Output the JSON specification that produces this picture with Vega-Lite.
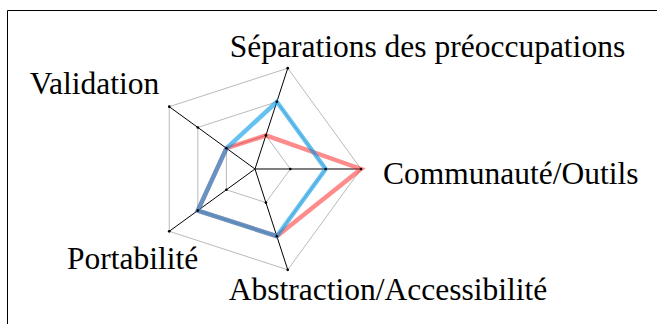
{
  "$schema": "https://vega.github.io/schema/vega-lite/v6.json",
  "width": 651,
  "height": 315,
  "autosize": {"type": "none"},
  "padding": {"left": 7, "top": 10, "right": -1, "bottom": -1},
  "background": "white",
  "config": {"view": {"stroke": "black", "strokeWidth": 1}, "text": {"font": "Liberation Serif"}},
  "datasets": {
    "axes": [
      {"axe": "Communauté/Outils", "i": 0},
      {"axe": "Séparations des préoccupations", "i": 1},
      {"axe": "Validation", "i": 2},
      {"axe": "Portabilité", "i": 3},
      {"axe": "Abstraction/Accessibilité", "i": 4}
    ],
    "grille": [
      {"i": 0, "niveau": 1}, {"i": 0, "niveau": 2}, {"i": 0, "niveau": 3},
      {"i": 1, "niveau": 1}, {"i": 1, "niveau": 2}, {"i": 1, "niveau": 3},
      {"i": 2, "niveau": 1}, {"i": 2, "niveau": 2}, {"i": 2, "niveau": 3},
      {"i": 3, "niveau": 1}, {"i": 3, "niveau": 2}, {"i": 3, "niveau": 3},
      {"i": 4, "niveau": 1}, {"i": 4, "niveau": 2}, {"i": 4, "niveau": 3}
    ],
    "scores": [
      {"serie": "A", "i": 0, "axe": "Communauté/Outils", "niveau": 3},
      {"serie": "A", "i": 1, "axe": "Séparations des préoccupations", "niveau": 1},
      {"serie": "A", "i": 2, "axe": "Validation", "niveau": 1},
      {"serie": "A", "i": 3, "axe": "Portabilité", "niveau": 2},
      {"serie": "A", "i": 4, "axe": "Abstraction/Accessibilité", "niveau": 2},
      {"serie": "B", "i": 0, "axe": "Communauté/Outils", "niveau": 2},
      {"serie": "B", "i": 1, "axe": "Séparations des préoccupations", "niveau": 2},
      {"serie": "B", "i": 2, "axe": "Validation", "niveau": 1},
      {"serie": "B", "i": 3, "axe": "Portabilité", "niveau": 2},
      {"serie": "B", "i": 4, "axe": "Abstraction/Accessibilité", "niveau": 2}
    ]
  },
  "layer": [
    {
      "data": {"name": "grille"},
      "transform": [
        {"calculate": "cos(2*PI*datum.i/5)*datum.niveau/3", "as": "x"},
        {"calculate": "sin(2*PI*datum.i/5)*datum.niveau/3", "as": "y"}
      ],
      "mark": {"type": "line", "color": "#a8a8a8", "strokeWidth": 0.8, "interpolate": "linear-closed"},
      "encoding": {
        "x": {"field": "x", "type": "quantitative", "scale": {"domain": [-2.3396, 3.8019], "nice": false, "zero": false}, "axis": null},
        "y": {"field": "y", "type": "quantitative", "scale": {"domain": [-1.4717, 1.5], "nice": false, "zero": false}, "axis": null},
        "detail": {"field": "niveau", "type": "nominal"},
        "order": {"field": "i", "type": "quantitative"}
      }
    },
    {
      "data": {"name": "axes"},
      "transform": [
        {"calculate": "cos(2*PI*datum.i/5)", "as": "x"},
        {"calculate": "sin(2*PI*datum.i/5)", "as": "y"},
        {"calculate": "0", "as": "o"}
      ],
      "mark": {"type": "rule", "color": "black", "strokeWidth": 1},
      "encoding": {
        "x": {"field": "o", "type": "quantitative"},
        "y": {"field": "o", "type": "quantitative"},
        "x2": {"field": "x"},
        "y2": {"field": "y"}
      }
    },
    {
      "data": {"name": "scores"},
      "transform": [
        {"filter": "datum.serie === 'A'"},
        {"calculate": "cos(2*PI*datum.i/5)*datum.niveau/3", "as": "x"},
        {"calculate": "sin(2*PI*datum.i/5)*datum.niveau/3", "as": "y"}
      ],
      "mark": {"type": "line", "color": "#ff0000", "opacity": 0.45, "strokeWidth": 4.5, "interpolate": "linear-closed", "strokeJoin": "miter"},
      "encoding": {
        "x": {"field": "x", "type": "quantitative"},
        "y": {"field": "y", "type": "quantitative"},
        "order": {"field": "i", "type": "quantitative"}
      }
    },
    {
      "data": {"name": "scores"},
      "transform": [
        {"filter": "datum.serie === 'B'"},
        {"calculate": "cos(2*PI*datum.i/5)*datum.niveau/3", "as": "x"},
        {"calculate": "sin(2*PI*datum.i/5)*datum.niveau/3", "as": "y"}
      ],
      "mark": {"type": "line", "color": "#0098e6", "opacity": 0.6, "strokeWidth": 4.5, "interpolate": "linear-closed", "strokeJoin": "miter"},
      "encoding": {
        "x": {"field": "x", "type": "quantitative"},
        "y": {"field": "y", "type": "quantitative"},
        "order": {"field": "i", "type": "quantitative"}
      }
    },
    {
      "data": {"name": "grille"},
      "transform": [
        {"calculate": "cos(2*PI*datum.i/5)*datum.niveau/3", "as": "x"},
        {"calculate": "sin(2*PI*datum.i/5)*datum.niveau/3", "as": "y"}
      ],
      "mark": {"type": "circle", "color": "black", "opacity": 1, "size": 7},
      "encoding": {
        "x": {"field": "x", "type": "quantitative"},
        "y": {"field": "y", "type": "quantitative"}
      }
    },
    {
      "data": {"name": "axes"},
      "transform": [
        {"filter": "datum.i === 0"},
        {"calculate": "cos(2*PI*datum.i/5)", "as": "x"},
        {"calculate": "sin(2*PI*datum.i/5)", "as": "y"}
      ],
      "mark": {"type": "text", "fontSize": 31.5, "color": "black", "align": "left", "baseline": "alphabetic", "dx": 22, "dy": 15},
      "encoding": {
        "x": {"field": "x", "type": "quantitative"},
        "y": {"field": "y", "type": "quantitative"},
        "text": {"field": "axe"}
      }
    },
    {
      "data": {"name": "axes"},
      "transform": [
        {"filter": "datum.i === 1"},
        {"calculate": "cos(2*PI*datum.i/5)", "as": "x"},
        {"calculate": "sin(2*PI*datum.i/5)", "as": "y"}
      ],
      "mark": {"type": "text", "fontSize": 31.5, "color": "black", "align": "left", "baseline": "alphabetic", "dx": -58, "dy": -11},
      "encoding": {
        "x": {"field": "x", "type": "quantitative"},
        "y": {"field": "y", "type": "quantitative"},
        "text": {"field": "axe"}
      }
    },
    {
      "data": {"name": "axes"},
      "transform": [
        {"filter": "datum.i === 2"},
        {"calculate": "cos(2*PI*datum.i/5)", "as": "x"},
        {"calculate": "sin(2*PI*datum.i/5)", "as": "y"}
      ],
      "mark": {"type": "text", "fontSize": 31.5, "color": "black", "align": "right", "baseline": "alphabetic", "dx": -10, "dy": -13},
      "encoding": {
        "x": {"field": "x", "type": "quantitative"},
        "y": {"field": "y", "type": "quantitative"},
        "text": {"field": "axe"}
      }
    },
    {
      "data": {"name": "axes"},
      "transform": [
        {"filter": "datum.i === 3"},
        {"calculate": "cos(2*PI*datum.i/5)", "as": "x"},
        {"calculate": "sin(2*PI*datum.i/5)", "as": "y"}
      ],
      "mark": {"type": "text", "fontSize": 31.5, "color": "black", "align": "right", "baseline": "alphabetic", "dx": 29, "dy": 38},
      "encoding": {
        "x": {"field": "x", "type": "quantitative"},
        "y": {"field": "y", "type": "quantitative"},
        "text": {"field": "axe"}
      }
    },
    {
      "data": {"name": "axes"},
      "transform": [
        {"filter": "datum.i === 4"},
        {"calculate": "cos(2*PI*datum.i/5)", "as": "x"},
        {"calculate": "sin(2*PI*datum.i/5)", "as": "y"}
      ],
      "mark": {"type": "text", "fontSize": 31.5, "color": "black", "align": "left", "baseline": "alphabetic", "dx": -59, "dy": 30},
      "encoding": {
        "x": {"field": "x", "type": "quantitative"},
        "y": {"field": "y", "type": "quantitative"},
        "text": {"field": "axe"}
      }
    }
  ]
}
